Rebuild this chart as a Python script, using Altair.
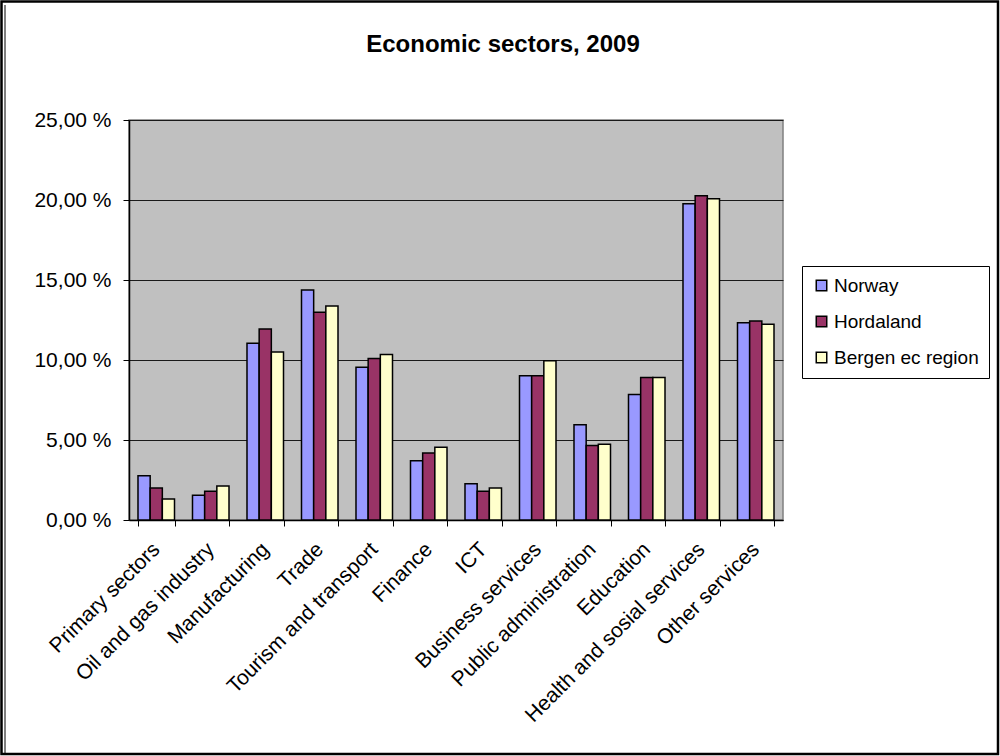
import altair as alt
import pandas as pd

categories = ["Primary sectors", "Oil and gas industry", "Manufacturing", "Trade",
              "Tourism and transport", "Finance", "ICT", "Business services",
              "Public administration", "Education", "Health and sosial services",
              "Other services"]
series = ["Norway", "Hordaland", "Bergen ec region"]
colors = ["#9999FF", "#993366", "#FFFFCC"]
title_text = ["Economic sectors, 2009"]

norway = [2.77, 1.54, 11.04, 14.37, 9.54, 3.70, 2.27, 9.02, 5.96, 7.85, 19.77, 12.33]
hordaland = [2.00, 1.79, 11.93, 12.98, 10.10, 4.19, 1.79, 9.02, 4.66, 8.91, 20.27, 12.44]
bergen = [1.31, 2.12, 10.50, 13.37, 10.35, 4.54, 2.00, 9.96, 4.73, 8.91, 20.08, 12.23]

rows = []
for name, vals in zip(series, [norway, hordaland, bergen]):
    for c, v in zip(categories, vals):
        rows.append({"sector": c, "series": name, "value": v})
df = pd.DataFrame(rows)

FONT = "Liberation Sans"
W, H = 654, 400
LEFT, TOP = 129, 120

bars = alt.Chart(df).mark_bar(stroke="black", strokeWidth=1.5).encode(
    x=alt.X("sector:N", sort=categories,
            scale=alt.Scale(paddingInner=0.33, paddingOuter=0.165),
            axis=alt.Axis(title=None, labelAngle=-45, labelAlign="right",
                          labelBaseline="middle", labelPadding=20, labelLimit=400,
                          labelFontSize=21, labelFont=FONT, labelColor="black",
                          tickBand="extent", tickColor="black", tickSize=6,
                          domainColor="black", domainWidth=1.5, grid=False)),
    xOffset=alt.XOffset("series:N", sort=series, scale=alt.Scale(paddingInner=0, paddingOuter=0)),
    y=alt.Y("value:Q", scale=alt.Scale(domain=[0, 25], nice=False),
            axis=alt.Axis(title=None, values=[0, 5, 10, 15, 20, 25],
                          labelExpr="replace(format(datum.value, '.2f'), '.', ',') + ' %'",
                          labelFontSize=21, labelFont=FONT, labelColor="black",
                          labelPadding=12, tickColor="black", tickSize=6,
                          domainColor="black", domainWidth=1.5,
                          grid=True, gridColor="#1a1a1a", gridWidth=1)),
    color=alt.Color("series:N", sort=series,
                    scale=alt.Scale(domain=series, range=colors),
                    legend=alt.Legend(title=None, orient="none", legendX=673, legendY=146,
                                      symbolType="square", symbolSize=110,
                                      symbolStrokeColor="black", symbolStrokeWidth=1.5,
                                      labelFontSize=19, labelFont=FONT, labelColor="black",
                                      labelOffset=3, rowPadding=16, padding=10,
                                      strokeColor="black", fillColor="white",
                                      cornerRadius=0)),
)

title = alt.Chart(alt.Data(values=[{"t": t} for t in title_text])).mark_text(
    font=FONT, fontSize=24, fontWeight="bold", color="black",
    align="center", baseline="alphabetic").encode(
    text="t:N", x=alt.value(503 - LEFT), y=alt.value(52 - TOP))

frame = alt.Chart(alt.Data(values=[{}])).mark_rect(
    fill=None, stroke="black", strokeWidth=2.5).encode(
    x=alt.value(-LEFT + 1.5), x2=alt.value(1000 - LEFT - 2),
    y=alt.value(-TOP + 1.5), y2=alt.value(756 - TOP - 2))

inner = alt.Chart(alt.Data(values=[{}])).mark_rule(
    stroke="black", strokeWidth=1).encode(
    x=alt.value(-LEFT + 5), y=alt.value(-TOP + 5), y2=alt.value(756 - TOP - 2))

chart = alt.layer(bars, title, frame, inner).properties(
    width=W, height=H,
    autosize=alt.AutoSizeParams(type="none"),
    padding={"left": LEFT, "top": TOP, "right": 1000 - LEFT - W, "bottom": 756 - TOP - H},
    background="white",
).configure_view(fill="#C0C0C0", stroke="#808080", strokeWidth=1.5)

chart.save("out.html", embed_options={"renderer": "svg", "actions": False})
